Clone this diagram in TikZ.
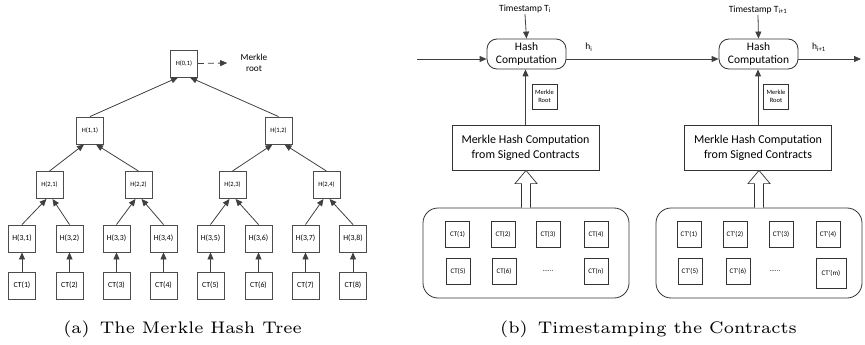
\documentclass[tikz,border=0pt]{standalone}
\usepackage{fontspec}
\newfontfamily\cf{Carlito}
\usetikzlibrary{arrows.meta}
\begin{document}
\begin{tikzpicture}[x=1pt,y=-1pt,
  tb/.style={draw=black!70, line width=0.9pt, minimum width=27pt, minimum height=27pt, inner sep=0pt, font=\cf\fontsize{6.5}{7}\selectfont},
  tbb/.style={tb, font=\cf\fontsize{7.8}{8}\selectfont},
  ar/.style={draw=black!75, line width=0.8pt, -{Triangle[length=7pt,width=6pt]}},
  hb/.style={draw=black!80, line width=0.8pt, rounded corners=10pt, minimum width=79pt, minimum height=30pt, inner sep=0pt, align=center, font=\cf\fontsize{11.5}{12.5}\selectfont},
  mb/.style={draw=black!80, line width=0.8pt, minimum width=147pt, minimum height=45pt, inner sep=0pt, align=center, font=\cf\fontsize{12}{15}\selectfont},
  rb/.style={draw=black!80, line width=0.7pt, minimum width=25pt, minimum height=25pt, inner sep=0pt, align=center, font=\cf\fontsize{6.5}{8.5}\selectfont},
  cb/.style={draw=black!80, line width=0.8pt, rounded corners=15pt, minimum width=206pt, minimum height=90pt, inner sep=0pt},
  ctb/.style={draw=black!80, line width=0.7pt, minimum width=24pt, minimum height=26pt, inner sep=0pt, font=\cf\fontsize{7}{8}\selectfont},
  lab/.style={font=\cf\fontsize{9.5}{11}\selectfont, inner sep=1pt},
  hollow/.style={draw=black!80, line width=0.7pt, fill=white},
  captext/.style={inner sep=0pt}
]
\useasboundingbox (0,0) rectangle (865,345);
% ---------- (a) Merkle tree ----------
\node[tb] (r) at (184,63.5) {H(0,1)};
\node[tb] (a1) at (90,130.5) {H(1,1)};
\node[tb] (a2) at (278.5,130.5) {H(1,2)};
\node[tb] (b1) at (49.5,185) {H(2,1)};
\node[tb] (b2) at (138.5,185) {H(2,2)};
\node[tb] (b3) at (232.5,185) {H(2,3)};
\node[tb] (b4) at (326.5,185) {H(2,4)};
\foreach \i/\x in {1/22,2/69.5,3/116.5,4/163.5,5/210.5,6/258.5,7/305.5,8/353}{
  \node[tbb] (c\i) at (\x,238.5) {H(3,\i)};
  \node[tbb] (d\i) at (\x,285.5) {CT(\i)};
  \draw[ar] (d\i) -- (c\i);
}
\draw[ar] (a1.north) -- ([xshift=-6pt]r.south);
\draw[ar] (a2.north) -- ([xshift=6pt]r.south);
\draw[ar] (b1.north) -- ([xshift=-6pt]a1.south);
\draw[ar] (b2.north) -- ([xshift=6pt]a1.south);
\draw[ar] (b3.north) -- ([xshift=-6pt]a2.south);
\draw[ar] (b4.north) -- ([xshift=6pt]a2.south);
\draw[ar] (c1.north) -- ([xshift=-3pt]b1.south);
\draw[ar] (c2.north) -- ([xshift=3pt]b1.south);
\draw[ar] (c3.north) -- ([xshift=-3pt]b2.south);
\draw[ar] (c4.north) -- ([xshift=3pt]b2.south);
\draw[ar] (c5.north) -- ([xshift=-3pt]b3.south);
\draw[ar] (c6.north) -- ([xshift=3pt]b3.south);
\draw[ar] (c7.north) -- ([xshift=-3pt]b4.south);
\draw[ar] (c8.north) -- ([xshift=3pt]b4.south);
\node[font=\cf\fontsize{9.2}{11}\selectfont, align=center] (mr) at (254,63) {Merkle\\root};
\draw[ar, dashed, dash pattern=on 6pt off 4pt] (r.east) -- ([xshift=-10pt]mr.west);
\node[captext] (capa) at (182.5,329) {\scalebox{2.8}{\fontsize{6}{7}\selectfont (a)\hspace{0.6em}The Merkle Hash Tree}};
% ---------- (b) timestamping ----------
\node[hb] (h1) at (526.5,54) {Hash\\Computation};
\node[hb] (h2) at (758.5,54) {Hash\\Computation};
\node[lab] (t1) at (525,9) {Timestamp T\textsubscript{i}};
\node[lab] (t2) at (758,10) {Timestamp T\textsubscript{i+1}};
\draw[ar] (t1.south) -- (h1.north);
\draw[ar] (t2.south) -- (h2.north);
\coordinate (in) at (417,59);
\coordinate (out) at (861,59);
\draw[ar] (in) -- (h1.west|-in);
\draw[ar] (h1.east|-in) -- (h2.west|-in);
\draw[ar] (h2.east|-in) -- (out);
\node[lab] (hi) at (589,47) {h\textsubscript{i}};
\node[lab] (hii) at (819,47) {h\textsubscript{i+1}};
\node[rb] (mr1) at (544.5,96.5) {Merkle\\Root};
\node[rb] (mr2) at (776,96.5) {Merkle\\Root};
\node[mb] (mh1) at (525.5,147.5) {Merkle Hash Computation\\from Signed Contracts};
\node[mb] (mh2) at (758,147.5) {Merkle Hash Computation\\from Signed Contracts};
\draw[ar] (mh1.north) -- (h1.south-|mh1.north);
\draw[ar] (mh2.north) -- (h2.south-|mh2.north);
\node[cb] (k1) at (526,253) {};
\node[cb] (k2) at (759,253) {};
\foreach \k in {1,2}{
  \draw[hollow] ([xshift=-4.5pt]k\k.north) -- ++(0,-24) -- ++(-6.5,0) -- (k\k.north|-mh\k.south) -- ([xshift=11pt,yshift=24pt]k\k.north) -- ++(-6.5,0) -- ([xshift=4.5pt]k\k.north);
}
\node[ctb] (p1) at (457.5,234) {CT(1)};
\node[ctb] (p2) at (503,234) {CT(2)};
\node[ctb] (p3) at (548,234) {CT(3)};
\node[ctb] (p4) at (596,234) {CT(4)};
\node[ctb] (p5) at (458,271.5) {CT(5)};
\node[ctb] (p6) at (504,271.5) {CT(6)};
\node[font=\cf\fontsize{7}{8}\selectfont] (pd) at (548,271.5) {......};
\node[ctb] (pn) at (596,271.5) {CT(n)};
\node[ctb] (q1) at (689,234) {CT'(1)};
\node[ctb] (q2) at (735,234) {CT'(2)};
\node[ctb] (q3) at (781,234) {CT'(3)};
\node[ctb] (q4) at (828,234) {CT'(4)};
\node[ctb] (q5) at (690,271.5) {CT'(5)};
\node[ctb] (q6) at (738,271.5) {CT'(6)};
\node[font=\cf\fontsize{7}{8}\selectfont] (qd) at (775,271.5) {......};
\node[ctb, minimum width=30pt, minimum height=30pt] (qm) at (831,273) {CT'(m)};
\node[captext] (capb) at (648.5,329) {\scalebox{2.8}{\fontsize{6}{7}\selectfont (b)\hspace{0.6em}Timestamping the Contracts}};
\end{tikzpicture}
\end{document}
